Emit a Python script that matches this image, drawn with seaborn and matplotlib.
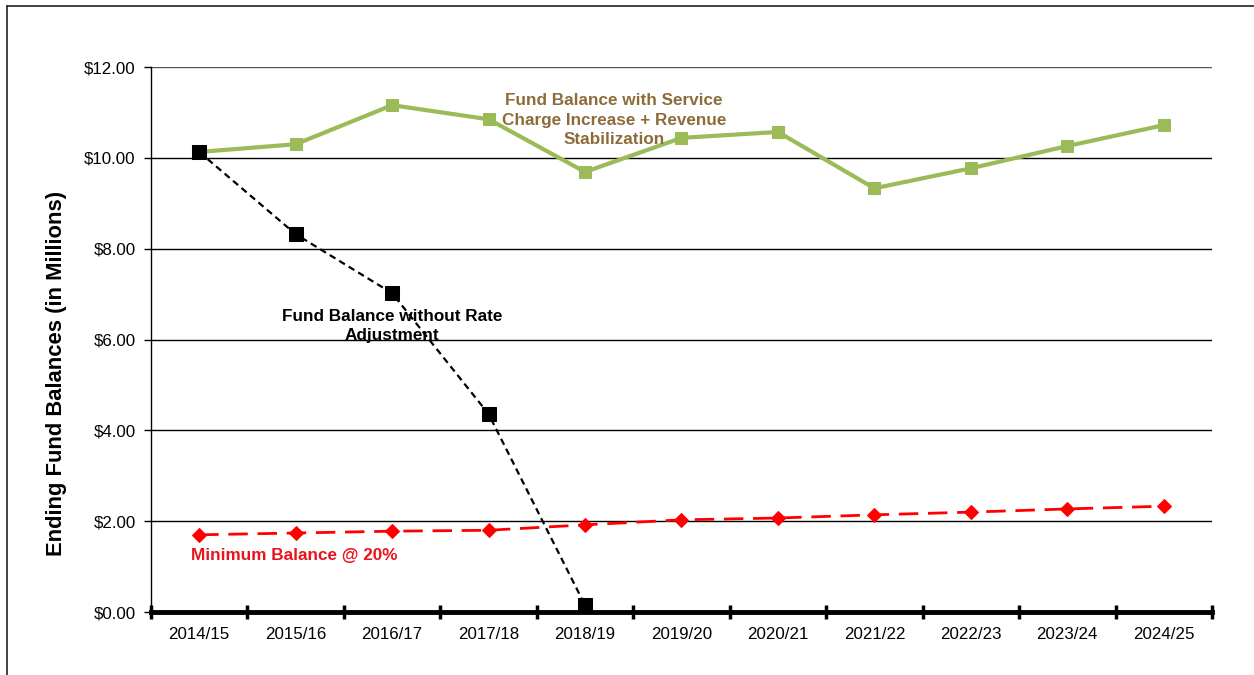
import pandas as pd
import matplotlib.pyplot as plt
import matplotlib.lines as mlines
import seaborn as sns

# datos (millones de dolares)
anios = ["2014/15", "2015/16", "2016/17", "2017/18", "2018/19", "2019/20",
         "2020/21", "2021/22", "2022/23", "2023/24", "2024/25"]
con_ajuste = [10.13, 10.30, 11.16, 10.85, 9.69, 10.44, 10.57, 9.33, 9.77, 10.26, 10.72]
sin_ajuste = [10.13, 8.32, 7.02, 4.36, 0.15]
minimo = [1.70, 1.74, 1.78, 1.80, 1.92, 2.03, 2.07, 2.14, 2.20, 2.27, 2.33]
ticks_y = [0, 2, 4, 6, 8, 10, 12]

df_con = pd.DataFrame({"idx": range(len(anios)), "valor": con_ajuste})
df_sin = pd.DataFrame({"idx": range(len(sin_ajuste)), "valor": sin_ajuste})
df_min = pd.DataFrame({"idx": range(len(anios)), "valor": minimo})

sns.set_theme(style="white")
plt.rcParams['font.family'] = ['Liberation Sans', 'DejaVu Sans']

fig, ax = plt.subplots(figsize=(12.54, 6.75), dpi=100)
fig.subplots_adjust(left=0.1204, right=0.9665, top=0.9007, bottom=0.0933)

# lineas de rejilla
for v in ticks_y[1:]:
    ax.axhline(v, color="black" if v < 12 else "#555555", lw=1.0, zorder=1)

sns.lineplot(data=df_min, x="idx", y="valor", ax=ax, color="#FF0000", lw=2,
             marker="D", markersize=7, markeredgecolor="#FF0000", zorder=3)
ax.lines[-1].set_dashes([7, 3.5])
sns.lineplot(data=df_con, x="idx", y="valor", ax=ax, color="#9BBB59", lw=3,
             marker="s", markersize=9, markeredgecolor="#9BBB59", zorder=4)
sns.lineplot(data=df_sin, x="idx", y="valor", ax=ax, color="black", lw=1.6,
             marker="s", markersize=10, markeredgecolor="black", zorder=5)
ax.lines[-1].set_dashes([3, 2])

# textos
ax.text(2, 6.3, "Fund Balance without Rate\nAdjustment", ha="center", va="center",
        fontsize=12.3, fontweight="bold", color="black", linespacing=1.3, zorder=6)
ax.text(4.3, 10.83, "Fund Balance with Service\nCharge Increase + Revenue\nStabilization",
        ha="center", va="center", fontsize=12.3, fontweight="bold", color="#8E6B3A",
        linespacing=1.35, zorder=6)
ax.text(-0.08, 1.25, "Minimum Balance @ 20%", ha="left", va="center",
        fontsize=12.3, fontweight="bold", color="#E8141E", zorder=6)

# ejes
ax.set_xlim(-0.5, len(anios) - 0.5)
ax.set_ylim(0, 12)
ax.set_yticks(ticks_y)
ax.set_yticklabels([f"${v:.2f}" for v in ticks_y], fontsize=12.2, color="black")
ax.set_xticks([i - 0.5 for i in range(len(anios) + 1)])
ax.set_xticklabels([])
ax.set_xticks(range(len(anios)), minor=True)
ax.set_xticklabels(anios, minor=True, fontsize=12.2, color="black")
ax.tick_params(axis="x", which="major", bottom=True, direction="inout", length=10,
               width=2.5, color="black")
ax.tick_params(axis="x", which="minor", bottom=False, length=0, pad=11)
ax.tick_params(axis="y", direction="out", length=5, width=1, color="black", pad=6, left=True)
ax.set_xlabel("")
ax.set_ylabel("Ending Fund Balances (in Millions)", fontsize=15.8, fontweight="bold",
              color="black")
ax.yaxis.set_label_coords(-0.079, 0.437)

for lado in ["top", "right"]:
    ax.spines[lado].set_visible(False)
ax.spines["left"].set_color("black")
ax.spines["left"].set_linewidth(1)
ax.spines["bottom"].set_color("black")
ax.spines["bottom"].set_linewidth(3.5)
ax.spines["bottom"].set_zorder(2)

# marco de la figura
fig.add_artist(mlines.Line2D([7 / 1254, 1], [1 - 6 / 675, 1 - 6 / 675], color="#222222", lw=1.2))
fig.add_artist(mlines.Line2D([7 / 1254, 7 / 1254], [0, 1 - 6 / 675], color="#222222", lw=1.2))

plt.savefig("out.png", dpi=100)
plt.close()
